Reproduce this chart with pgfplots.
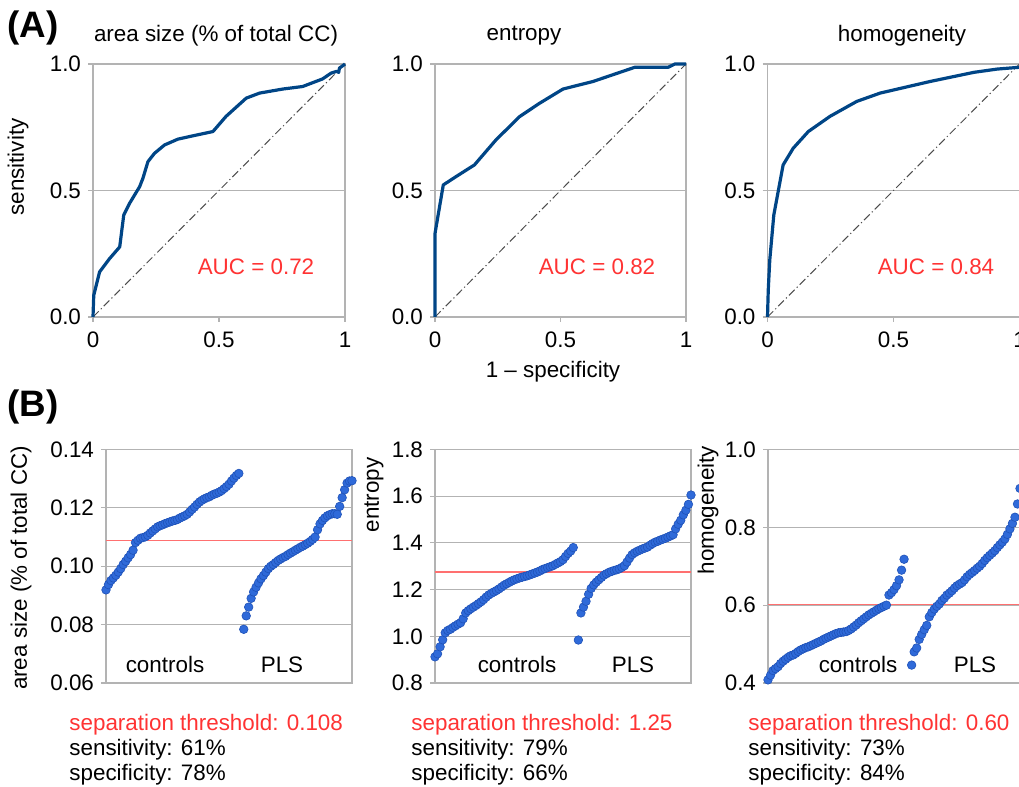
\documentclass[border=0pt]{standalone}
\usepackage{fontspec}
\setmainfont{Liberation Sans}
\usepackage{pgfplots}
\usepackage{pgfplotstable}
\pgfplotsset{compat=1.18}

\definecolor{rocblue}{HTML}{004586}
\definecolor{dotblue}{HTML}{2F6AD9}
\definecolor{dotedge}{HTML}{1F52B8}
\definecolor{thrred}{HTML}{FF7070}
\definecolor{txtred}{HTML}{FF3333}
\definecolor{gridgray}{HTML}{B3B3B3}

% ROC curves (1 - specificity, sensitivity)
\pgfplotstableread{
x y
0 0
0.003 0.086
0.026 0.178
0.066 0.231
0.106 0.277
0.122 0.403
0.145 0.449
0.185 0.515
0.198 0.548
0.218 0.614
0.244 0.647
0.284 0.680
0.337 0.703
0.396 0.716
0.476 0.733
0.528 0.793
0.608 0.865
0.661 0.885
0.753 0.901
0.832 0.911
0.911 0.941
0.945 0.964
0.967 0.971
0.975 0.967
0.978 0.984
0.991 0.993
1 1
}\rocArea
\pgfplotstableread{
x y
0 0
0 0.330
0.033 0.522
0.084 0.555
0.157 0.601
0.243 0.700
0.337 0.792
0.417 0.845
0.510 0.901
0.630 0.931
0.710 0.958
0.796 0.987
0.929 0.987
0.956 1.0
1 1
}\rocEntropy
\pgfplotstableread{
x y
0 0
0.003 0.106
0.009 0.225
0.025 0.403
0.062 0.601
0.102 0.667
0.162 0.733
0.248 0.793
0.354 0.852
0.447 0.885
0.646 0.931
0.819 0.967
0.912 0.980
1 0.987
}\rocHomog

% sorted values, controls then PLS
\pgfplotstableread{
x y
0 0.0919
1 0.0937
2 0.0951
3 0.0960
4 0.0969
5 0.0980
6 0.0992
7 0.1006
8 0.1017
9 0.1029
10 0.1040
11 0.1055
12 0.1081
13 0.1089
14 0.1096
15 0.1098
16 0.1101
17 0.1106
18 0.1114
19 0.1121
20 0.1128
21 0.1135
22 0.1139
23 0.1142
24 0.1146
25 0.1149
26 0.1152
27 0.1155
28 0.1157
29 0.1160
30 0.1165
31 0.1169
32 0.1173
33 0.1178
34 0.1186
35 0.1195
36 0.1203
37 0.1212
38 0.1220
39 0.1226
40 0.1231
41 0.1235
42 0.1238
43 0.1243
44 0.1247
45 0.1250
46 0.1254
47 0.1259
48 0.1266
49 0.1273
50 0.1281
51 0.1292
52 0.1302
53 0.1311
54 0.1318
}\areaCtl
\pgfplotstableread{
x y
56 0.0784
57 0.0830
58 0.0860
59 0.0890
60 0.0912
61 0.0928
62 0.0943
63 0.0957
64 0.0968
65 0.0980
66 0.0992
67 0.1000
68 0.1006
69 0.1013
70 0.1020
71 0.1025
72 0.1030
73 0.1034
74 0.1040
75 0.1045
76 0.1050
77 0.1055
78 0.1060
79 0.1065
80 0.1069
81 0.1074
82 0.1079
83 0.1085
84 0.1092
85 0.1100
86 0.1125
87 0.1145
88 0.1157
89 0.1166
90 0.1173
91 0.1177
92 0.1180
93 0.1180
94 0.1178
95 0.1205
96 0.1235
97 0.1262
98 0.1285
99 0.1292
100 0.1293
}\areaPLS
\pgfplotstableread{
x y
0 0.912
1 0.925
2 0.955
3 0.985
4 1.015
5 1.025
6 1.030
7 1.038
8 1.045
9 1.052
10 1.058
11 1.075
12 1.100
13 1.110
14 1.118
15 1.125
16 1.132
17 1.140
18 1.148
19 1.157
20 1.168
21 1.177
22 1.184
23 1.190
24 1.196
25 1.203
26 1.211
27 1.219
28 1.225
29 1.231
30 1.237
31 1.242
32 1.246
33 1.250
34 1.253
35 1.256
36 1.259
37 1.263
38 1.267
39 1.271
40 1.275
41 1.280
42 1.286
43 1.290
44 1.294
45 1.298
46 1.302
47 1.308
48 1.314
49 1.320
50 1.328
51 1.342
52 1.355
53 1.365
54 1.380
}\entCtl
\pgfplotstableread{
x y
56 0.984
57 1.100
58 1.125
59 1.150
60 1.180
61 1.205
62 1.220
63 1.232
64 1.242
65 1.252
66 1.262
67 1.268
68 1.274
69 1.278
70 1.282
71 1.285
72 1.289
73 1.295
74 1.302
75 1.318
76 1.335
77 1.350
78 1.358
79 1.364
80 1.369
81 1.374
82 1.378
83 1.382
84 1.390
85 1.397
86 1.403
87 1.407
88 1.412
89 1.416
90 1.420
91 1.425
92 1.430
93 1.435
94 1.460
95 1.480
96 1.497
97 1.520
98 1.540
99 1.565
100 1.605
}\entPLS
\pgfplotstableread{
x y
0 0.408
1 0.420
2 0.432
3 0.437
4 0.442
5 0.450
6 0.456
7 0.461
8 0.466
9 0.470
10 0.472
11 0.476
12 0.481
13 0.485
14 0.488
15 0.491
16 0.493
17 0.496
18 0.499
19 0.502
20 0.505
21 0.508
22 0.512
23 0.515
24 0.518
25 0.521
26 0.524
27 0.527
28 0.529
29 0.530
30 0.531
31 0.532
32 0.535
33 0.539
34 0.544
35 0.549
36 0.555
37 0.560
38 0.565
39 0.570
40 0.575
41 0.579
42 0.583
43 0.587
44 0.591
45 0.594
46 0.597
47 0.600
48 0.626
49 0.632
50 0.640
51 0.650
52 0.665
53 0.690
54 0.718
}\homCtl
\pgfplotstableread{
x y
57 0.446
58 0.480
59 0.490
60 0.512
61 0.525
62 0.537
63 0.548
64 0.570
65 0.581
66 0.590
67 0.597
68 0.603
69 0.612
70 0.618
71 0.626
72 0.631
73 0.637
74 0.644
75 0.650
76 0.654
77 0.658
78 0.665
79 0.673
80 0.679
81 0.684
82 0.689
83 0.695
84 0.700
85 0.707
86 0.715
87 0.722
88 0.728
89 0.734
90 0.740
91 0.748
92 0.755
93 0.762
94 0.770
95 0.782
96 0.796
97 0.810
98 0.826
99 0.860
100 0.900
}\homPLS

\pgfplotsset{
  panelbase/.style={
    scale only axis, anchor=south west, clip=false,
    axis line style={draw=gridgray, line width=0.6pt},
    ymajorgrids, major grid style={draw=gridgray, line width=0.6pt},
    tick style={draw=gridgray, line width=0.6pt},
    tick align=outside, major tick length=2.5pt, tick pos=left,
    /pgf/number format/assume math mode=true,
    tick label style={font=\fontsize{11.2}{13}\selectfont, text=black},
  },
  rocpanel/.style={panelbase, height=126.5pt,
    xmin=0, xmax=1, ymin=0, ymax=1,
    xtick={0,0.5,1}, ytick={0,0.5,1},
    xticklabel style={yshift=-1.5pt},
    yticklabel style={/pgf/number format/.cd, fixed, fixed zerofill, precision=1, /tikz/.cd},
  },
  dotpanel/.style={panelbase, height=116.75pt, xmin=0, xmax=100, xtick=\empty},
  rocline/.style={rocblue, line width=1.6pt, line join=round, mark=none},
  diagline/.style={black!70, line width=0.5pt, dash pattern=on 4pt off 1.5pt on 0.6pt off 1.5pt, mark=none},
  thrline/.style={thrred, line width=0.6pt, mark=none},
  dotmarks/.style={only marks, mark=*, mark size=2.15pt,
    mark options={fill=dotblue, draw=dotedge, line width=0.3pt}},
}

\begin{document}
\begin{tikzpicture}
\useasboundingbox (0,0) rectangle (509.5pt,393.5pt);
\clip (0,0) rectangle (509.5pt,393.5pt);

% (A) ROC curves
\begin{axis}[rocpanel, at={(46.5pt,235pt)}, width=126pt]
\addplot[diagline] coordinates {(0,0) (1,1)};
\addplot[rocline] table[x=x,y=y] {\rocArea};
\end{axis}
\begin{axis}[rocpanel, at={(217.5pt,235pt)}, width=125.5pt]
\addplot[diagline] coordinates {(0,0) (1,1)};
\addplot[rocline] table[x=x,y=y] {\rocEntropy};
\end{axis}
\begin{axis}[rocpanel, at={(383.75pt,235pt)}, width=126pt]
\addplot[diagline] coordinates {(0,0) (1,1)};
\addplot[rocline] table[x=x,y=y] {\rocHomog};
\end{axis}

% (B) sorted values
\begin{axis}[dotpanel, at={(53pt,52pt)}, width=123pt,
  ymin=0.06, ymax=0.14, ytick={0.06,0.08,0.10,0.12,0.14},
  yticklabel style={/pgf/number format/.cd, fixed, fixed zerofill, precision=2, /tikz/.cd}]
\addplot[thrline] coordinates {(0,0.1088) (100,0.1088)};
\addplot[dotmarks] table[x=x,y=y] {\areaCtl};
\addplot[dotmarks] table[x=x,y=y] {\areaPLS};
\end{axis}
\begin{axis}[dotpanel, at={(217.5pt,52pt)}, width=128pt,
  ymin=0.8, ymax=1.8, ytick={0.8,1.0,1.2,1.4,1.6,1.8},
  yticklabel style={/pgf/number format/.cd, fixed, fixed zerofill, precision=1, /tikz/.cd}]
\addplot[thrline] coordinates {(0,1.275) (100,1.275)};
\addplot[dotmarks] table[x=x,y=y] {\entCtl};
\addplot[dotmarks] table[x=x,y=y] {\entPLS};
\end{axis}
\begin{axis}[dotpanel, at={(384pt,52pt)}, width=126pt,
  ymin=0.4, ymax=1.0, ytick={0.4,0.6,0.8,1.0},
  yticklabel style={/pgf/number format/.cd, fixed, fixed zerofill, precision=1, /tikz/.cd}]
\addplot[thrline] coordinates {(0,0.602) (100,0.602)};
\addplot[dotmarks] table[x=x,y=y] {\homCtl};
\addplot[dotmarks] table[x=x,y=y] {\homPLS};
\end{axis}

% labels, placed in pixel units of the reference
\begin{scope}[x=0.5pt, y=-0.5pt, yshift=393.5pt, font=\fontsize{11.2}{13}\selectfont]
\node[font=\fontsize{18.4}{20}\selectfont\bfseries] at (33,28) {(A)};
\node[font=\fontsize{18.4}{20}\selectfont\bfseries] at (33,407) {(B)};
\node at (216,36) {area size (\% of total CC)};
\node at (524,36) {entropy};
\node at (902,36) {homogeneity};
\node at (553,372) {1 -- specificity};
\node[rotate=90] at (18,167) {sensitivity};
\node[rotate=90] at (21,568) {area size (\% of total CC)};
\node[rotate=90] at (374,495) {entropy};
\node[rotate=90] at (708,510) {homogeneity};
\node[text=txtred] at (256,267) {AUC = 0.72};
\node[text=txtred] at (597,267) {AUC = 0.82};
\node[text=txtred] at (936,267) {AUC = 0.84};
\node at (165,665) {controls};
\node at (282,665) {PLS};
\node at (517,665) {controls};
\node at (633,665) {PLS};
\node at (858,665) {controls};
\node at (975,665) {PLS};
\node[anchor=base west, inner sep=0pt, text=txtred] at (69,731) {separation threshold: 0.108};
\node[anchor=base west, inner sep=0pt] at (69,756) {sensitivity: 61\%};
\node[anchor=base west, inner sep=0pt] at (69,781) {specificity: 78\%};
\node[anchor=base west, inner sep=0pt, text=txtred] at (411,731) {separation threshold: 1.25};
\node[anchor=base west, inner sep=0pt] at (411,756) {sensitivity: 79\%};
\node[anchor=base west, inner sep=0pt] at (411,781) {specificity: 66\%};
\node[anchor=base west, inner sep=0pt, text=txtred] at (748,731) {separation threshold: 0.60};
\node[anchor=base west, inner sep=0pt] at (748,756) {sensitivity: 73\%};
\node[anchor=base west, inner sep=0pt] at (748,781) {specificity: 84\%};
\end{scope}
\end{tikzpicture}
\end{document}
